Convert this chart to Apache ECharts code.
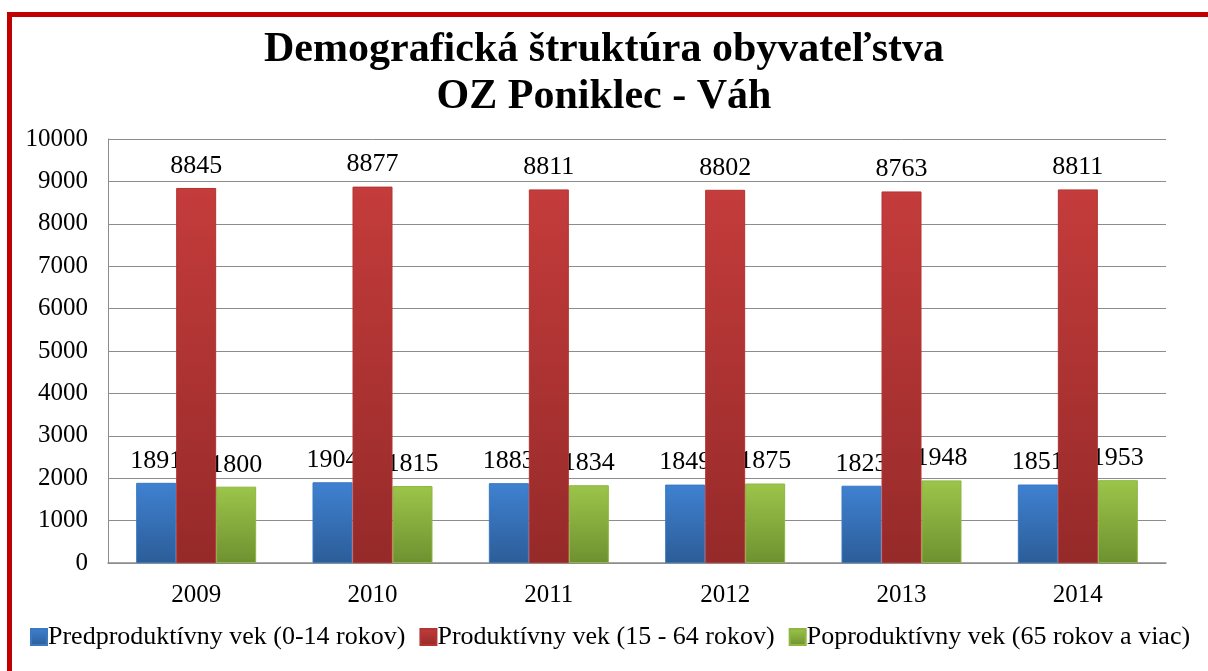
<!DOCTYPE html>
<html>
<head>
<meta charset="utf-8">
<script src="https://cdn.jsdelivr.net/npm/echarts@6/dist/echarts.min.js"></script>
<style>
  html, body { margin: 0; padding: 0; background: #fff; overflow: hidden; }
  #frame { position: absolute; left: 7px; top: 12px; width: 1300px; height: 800px;
           border-left: 5px solid #c00000; border-top: 5px solid #c00000; }
  #main { position: absolute; left: 0; top: 0; width: 1208px; height: 671px; }
</style>
</head>
<body>
<div id="frame"></div>
<div id="main"></div>
<script>
// data
var years = ['2009', '2010', '2011', '2012', '2013', '2014'];
var predprod = [1891, 1904, 1883, 1849, 1823, 1851];
var prod = [8845, 8877, 8811, 8802, 8763, 8811];
var poprod = [1800, 1815, 1834, 1875, 1948, 1953];
var seriesNames = [
    'Predproduktívny vek (0-14 rokov)',
    'Produktívny vek (15 - 64 rokov)',
    'Poproduktívny vek (65 rokov a viac)'
];

var font = '"Liberation Serif", "DejaVu Serif", serif';

function grad(top, bottom) {
    return new echarts.graphic.LinearGradient(0, 0, 0, 1, [
        {offset: 0, color: top},
        {offset: 1, color: bottom}
    ]);
}

// red series gets higher z so it covers neighbouring labels like in the original
function makeSeries(name, data, top, bottom, border, z) {
    return {
        name: name,
        type: 'bar',
        data: data,
        z: z,
        barWidth: 40,
        barGap: '0%',
        itemStyle: {
            color: grad(top, bottom),
            borderColor: border,
            borderWidth: 1
        },
        label: {
            show: true,
            position: 'top',
            distance: 9,
            color: '#000',
            fontFamily: font,
            fontSize: 26
        }
    };
}

var chart = echarts.init(document.getElementById('main'));
var option = {
    backgroundColor: 'transparent',
    animation: false,
    title: {
        text: 'Demografická štruktúra obyvateľstva\nOZ Poniklec - Váh',
        left: 'center',
        top: 22,
        textStyle: {
            fontFamily: font,
            fontWeight: 'bold',
            fontSize: 42,
            lineHeight: 47,
            color: '#000'
        }
    },
    grid: {
        left: 108, right: 42, top: 139, bottom: 108
    },
    legend: {
        top: 624,
        left: 30,
        width: 1300,
        padding: 0,
        itemGap: 14,
        itemWidth: 16,
        itemHeight: 16,
        icon: 'rect',
        textStyle: {
            fontFamily: font,
            fontSize: 26,
            color: '#000',
            padding: [0, 0, 0, -4]
        },
        data: seriesNames
    },
    xAxis: {
        type: 'category',
        data: years,
        axisLine: {lineStyle: {color: '#8c8c8c', width: 1.5}},
        axisTick: {show: false},
        axisLabel: {
            margin: 20,
            fontFamily: font,
            fontSize: 25,
            color: '#000'
        }
    },
    yAxis: {
        type: 'value',
        min: 0,
        max: 10000,
        interval: 1000,
        axisLine: {show: true, lineStyle: {color: '#8c8c8c', width: 1}},
        axisTick: {show: false},
        splitLine: {lineStyle: {color: '#8c8c8c', width: 1}},
        axisLabel: {
            margin: 20,
            fontFamily: font,
            fontSize: 25,
            color: '#000',
            formatter: function (v) { return String(v); }
        }
    },
    series: [
        makeSeries(seriesNames[0], predprod, '#3f81d1', '#2c5d98', '#3a78c2', 2),
        makeSeries(seriesNames[1], prod, '#c43c3b', '#952a29', '#b33433', 3),
        makeSeries(seriesNames[2], poprod, '#9cc54a', '#6e9130', '#8db73f', 2)
    ]
};
chart.setOption(option);
</script>
</body>
</html>
